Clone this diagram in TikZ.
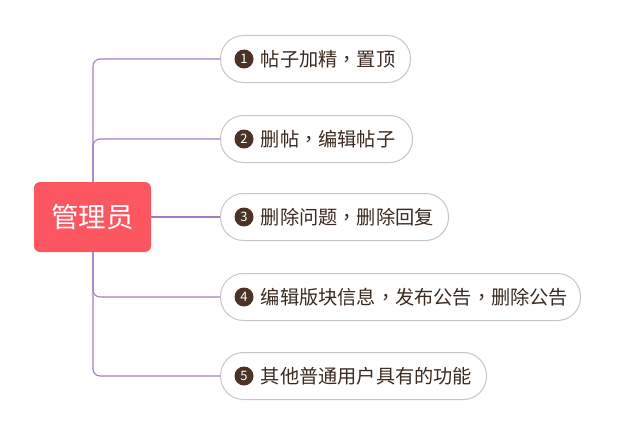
\documentclass[tikz,border=0pt]{standalone}
\usepackage{fontspec}
\setmainfont{Noto Sans CJK SC}
\newfontfamily\tcfont{Noto Sans CJK TC}
\newcommand\cm{{\tcfont ，}}
\begin{document}
\begin{tikzpicture}[x=1pt,y=-1pt,
  line/.style={draw=linec,line width=1.1pt,rounded corners=7pt},
  leaf/.style={draw=boxb,line width=1pt,fill=white,rounded corners=23pt,minimum height=47pt,anchor=west,inner sep=0pt,text=textc},
  num/.style={circle,fill=numc,text=white,inner sep=0pt,minimum size=19pt,font=\fontsize{13}{13}\selectfont},
  lbl/.style={anchor=west,inner sep=0pt,text=textc,font=\fontsize{19.2}{20}\selectfont}
]
\definecolor{linec}{HTML}{A27CC6}
\definecolor{boxb}{HTML}{C6C6C6}
\definecolor{textc}{HTML}{3A2A20}
\definecolor{numc}{HTML}{4A3326}
\definecolor{rootc}{HTML}{FC5660}
\useasboundingbox (0,0) rectangle (620,436);
\node[fill=rootc,rounded corners=6pt,minimum width=117pt,minimum height=70pt,inner sep=0pt,text=white,font=\fontsize{27.5}{28}\selectfont] (root) at (92.5,217) {管理员};
\node[leaf,minimum width=190pt] (c1) at (220,59) {};
\node[leaf,minimum width=192pt] (c2) at (220,139) {};
\node[leaf,minimum width=228pt] (c3) at (220,217) {};
\node[leaf,minimum width=360pt] (c4) at (220,297) {};
\node[leaf,minimum width=266pt] (c5) at (220,376) {};
\foreach \i/\t in {1/帖子加精\cm 置顶,2/删帖\cm 编辑帖子,3/删除问题\cm 删除回复,4/编辑版块信息\cm 发布公告\cm 删除公告,5/其他普通用户具有的功能}{
  \node[num] (n\i) at ([xshift=24pt]c\i.west) {\i};
  \node[lbl] (t\i) at ([xshift=7pt]n\i.east) {\t};
}
\draw[line] (root.north) ++(0.5,0) |- (c1.west);
\draw[line] (root.north) ++(0.5,0) |- (c2.west);
\draw[line] (root.east) -- (c3.west);
\draw[line] (root.south) ++(0.5,0) |- (c4.west);
\draw[line] (root.south) ++(0.5,0) |- (c5.west);
\end{tikzpicture}
\end{document}
